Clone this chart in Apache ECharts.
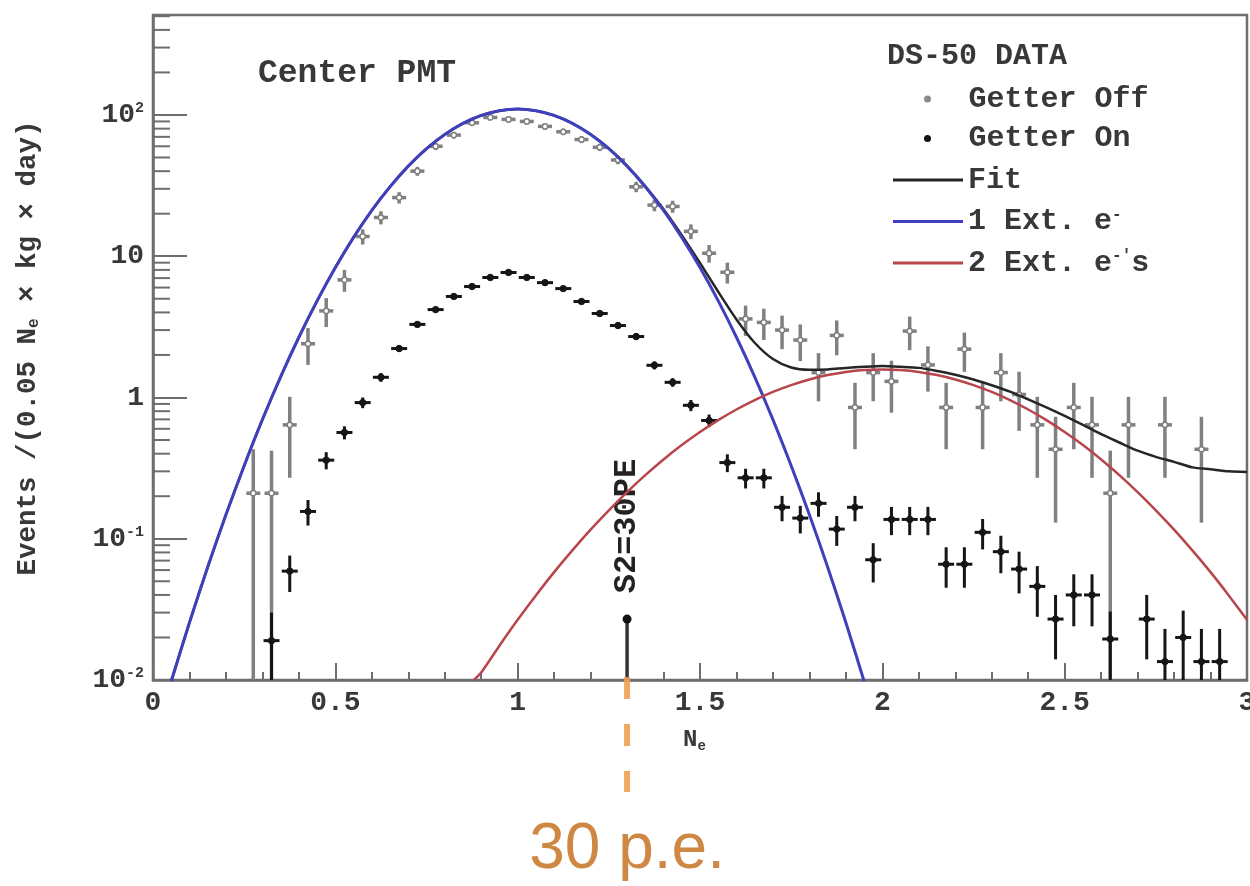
<!DOCTYPE html>
<html><head><meta charset="utf-8">
<script src="https://cdn.jsdelivr.net/npm/echarts@6/dist/echarts.min.js"></script>
<style>html,body{margin:0;padding:0;background:#fff}#c{width:1250px;height:886px}</style>
</head><body><div id="c"></div>
<script>
// ---------------- data ----------------
const goffX = [0.275,0.325,0.375,0.425,0.475,0.525,0.575,0.625,0.675,0.725,0.775,0.825,0.875,0.925,0.975,1.025,1.075,1.125,1.175,1.225,1.275,1.325,1.375,1.425,1.475,1.525,1.575,1.625,1.675,1.725,1.775,1.825,1.875,1.925,1.975,2.025,2.075,2.125,2.175,2.225,2.275,2.325,2.375,2.425,2.475,2.525,2.575,2.625,2.675,2.775,2.875];
const goffY = [0.21,0.21,0.64,2.4,4.1,6.8,13.8,18.8,26,40,60,72,88,96,93,90,83,76,67,59,48,31,23,22.5,15,10.5,7.7,3.6,3.4,3.0,2.55,1.5,2.75,0.85,1.5,1.3,2.95,1.7,0.85,2.2,0.85,1.5,1.05,0.64,0.43,0.85,0.64,0.21,0.64,0.64,0.43];
const goffErr = [0.22,0.21,0.37,0.7,0.95,1.2,1.7,2.0,2.4,2.9,3.6,3.9,4.3,4.5,4.4,4.4,4.2,4.0,3.8,3.5,3.2,2.6,2.2,2.2,1.8,1.5,1.3,0.87,0.85,0.8,0.74,0.56,0.76,0.42,0.56,0.52,0.79,0.6,0.42,0.68,0.42,0.56,0.47,0.37,0.3,0.42,0.37,0.21,0.37,0.37,0.3];

const gonX = [0.325,0.375,0.425,0.475,0.525,0.575,0.625,0.675,0.725,0.775,0.825,0.875,0.925,0.975,1.025,1.075,1.125,1.175,1.225,1.275,1.325,1.375,1.425,1.475,1.525,1.575,1.625,1.675,1.725,1.775,1.825,1.875,1.925,1.975,2.025,2.075,2.125,2.175,2.225,2.275,2.325,2.375,2.425,2.475,2.525,2.575,2.625,2.725,2.775,2.825,2.875,2.925];
const gonY = [0.019,0.059,0.156,0.36,0.565,0.92,1.39,2.22,3.29,4.19,5.19,6.1,7.07,7.67,7.07,6.5,5.9,4.78,3.93,3.23,2.7,1.69,1.28,0.88,0.687,0.346,0.27,0.27,0.167,0.14,0.178,0.117,0.167,0.071,0.137,0.137,0.137,0.066,0.066,0.111,0.081,0.061,0.046,0.027,0.040,0.040,0.0195,0.027,0.0135,0.020,0.0135,0.0135];
const gonErr = [0.011,0.017,0.032,0.05,0.06,0.08,0.1,0.12,0.15,0.17,0.19,0.2,0.22,0.23,0.22,0.21,0.2,0.18,0.16,0.15,0.14,0.11,0.09,0.08,0.07,0.05,0.043,0.043,0.034,0.031,0.035,0.028,0.034,0.022,0.031,0.031,0.031,0.021,0.021,0.027,0.024,0.02,0.018,0.013,0.016,0.016,0.011,0.013,0.0095,0.011,0.0095,0.0095];

const fitX = [0.05,0.10,0.15,0.20,0.25,0.30,0.35,0.40,0.45,0.50,0.55,0.60,0.65,0.70,0.75,0.80,0.85,0.90,0.95,1.00,1.05,1.10,1.15,1.20,1.25,1.30,1.35,1.40,1.45,1.50,1.55,1.60,1.65,1.70,1.75,1.80,1.85,1.90,1.95,2.00,2.05,2.10,2.15,2.20,2.25,2.30,2.35,2.40,2.45,2.50,2.55,2.60,2.65,2.70,2.75,2.80,2.85,2.90,2.95,3.00];
const fitY = [0.0098,0.0255,0.063,0.148,0.329,0.697,1.40,2.67,4.83,8.31,13.6,21.1,31.0,43.4,57.7,72.8,87.2,99.2,107.2,110,107.2,99.2,87.3,72.9,57.9,43.6,31.3,21.5,14.1,8.96,5.6,3.57,2.44,1.87,1.63,1.57,1.58,1.62,1.65,1.67,1.65,1.62,1.54,1.45,1.34,1.22,1.10,0.97,0.85,0.74,0.64,0.55,0.48,0.42,0.38,0.35,0.32,0.31,0.30,0.297];

const ext1X = [0.05,0.10,0.15,0.20,0.25,0.30,0.35,0.40,0.45,0.50,0.55,0.60,0.65,0.70,0.75,0.80,0.85,0.90,0.95,1.00,1.05,1.10,1.15,1.20,1.25,1.30,1.35,1.40,1.45,1.50,1.55,1.60,1.65,1.70,1.75,1.80,1.85,1.90,1.95];
const ext1Y = [0.0098,0.0255,0.063,0.148,0.329,0.697,1.40,2.67,4.83,8.31,13.6,21.1,31.0,43.4,57.7,72.8,87.2,99.2,107.2,110,107.2,99.2,87.2,72.8,57.7,43.4,31.0,21.1,13.6,8.31,4.83,2.67,1.40,0.697,0.329,0.148,0.063,0.0255,0.0098];

const ext2X = [0.88,0.90,0.95,1.00,1.05,1.10,1.15,1.20,1.25,1.30,1.35,1.40,1.45,1.50,1.55,1.60,1.65,1.70,1.75,1.80,1.85,1.90,1.95,2.00,2.05,2.10,2.15,2.20,2.25,2.30,2.35,2.40,2.45,2.50,2.55,2.60,2.65,2.70,2.75,2.80,2.85,2.90,2.95,3.00];
const ext2Y = [0.01,0.0113,0.0175,0.0267,0.0397,0.058,0.0827,0.116,0.159,0.214,0.282,0.364,0.46,0.569,0.691,0.822,0.958,1.094,1.224,1.342,1.441,1.517,1.564,1.58,1.564,1.517,1.441,1.342,1.224,1.094,0.958,0.822,0.691,0.569,0.46,0.364,0.282,0.214,0.159,0.116,0.0827,0.058,0.0397,0.0267];

const s2X = [1.3];
const s2Y = [0.027];

const xTickLabels = ['0','0.5','1','1.5','2','2.5','3'];
const yTickValues = [0.01, 0.1, 1, 10, 100];
const yTickLabels = ['10{s|-2}','10{s|-1}','1','10','10{s|2}'];

// ---------------- rendering ----------------
const MONO = '"Liberation Mono","DejaVu Sans Mono",monospace';
const AX = '#6e6e6e';
const TXT = '#383838';
const Y_MIN = 0.01, Y_MAX = 510;

const chart = echarts.init(document.getElementById('c'), null, {renderer: 'canvas'});

function errData(xs, ys, es) {
  return xs.map((x, i) => [x, ys[i], ys[i] - es[i], ys[i] + es[i]]);
}
function errRender(color, width, hw, marker) {
  return function (params, api) {
    const x = api.value(0), y = api.value(1);
    const lo = Math.max(api.value(2), Y_MIN), hi = api.value(3);
    const p = api.coord([x, y]);
    const pl = api.coord([x, lo]);
    const ph = api.coord([x, hi]);
    return {
      type: 'group',
      children: [
        {type: 'line', shape: {x1: p[0], y1: pl[1], x2: p[0], y2: ph[1]}, style: {stroke: color, lineWidth: width}},
        {type: 'line', shape: {x1: p[0] - hw, y1: p[1], x2: p[0] + hw, y2: p[1]}, style: {stroke: color, lineWidth: width}},
        {type: 'circle', shape: {cx: p[0], cy: p[1], r: marker.r}, style: {fill: marker.fill, stroke: marker.stroke, lineWidth: marker.lw}}
      ]
    };
  };
}

// minor log ticks positions (2..9 per decade)
const yMinor = [];
for (let d = -2; d <= 2; d++) for (let m = 2; m <= 9; m++) { const v = m * Math.pow(10, d); if (v < Y_MAX) yMinor.push(v); }

const pair = (xs, ys) => xs.map((x, i) => [x, ys[i]]);

const legendLabels = {
  'Getter Off': 'Getter Off',
  'Getter On': 'Getter On',
  'Fit': 'Fit',
  '1 Ext. e-': '1 Ext. e{s|-}',
  "2 Ext. e-'s": "2 Ext. e{s|-'}s"
};
const legendText = {
  fontFamily: MONO, fontWeight: 'bold', fontSize: 30, color: TXT, lineHeight: 30,
  rich: {s: {fontFamily: MONO, fontWeight: 'bold', fontSize: 16, color: TXT, padding: [0, 0, 14, 0]}}
};

const option = {
  animation: false,
  backgroundColor: '#ffffff',
  grid: {left: 153, right: 3, top: 15, bottom: 206, show: true, borderColor: AX, borderWidth: 2.5,
         backgroundColor: 'transparent', containLabel: false, outerBoundsMode: 'none'},
  xAxis: {
    type: 'value', min: 0, max: 3, interval: 0.5,
    axisLine: {show: true, onZero: false, lineStyle: {color: AX, width: 2.5}},
    axisTick: {show: true, inside: true, length: 17, lineStyle: {color: AX, width: 2}},
    minorTick: {show: true, splitNumber: 5, length: 8, lineStyle: {color: AX, width: 2}},
    splitLine: {show: false}, minorSplitLine: {show: false},
    axisLabel: {margin: 9, fontFamily: MONO, fontWeight: 'bold', fontSize: 28, color: TXT,
      formatter: v => xTickLabels[Math.round(v / 0.5)] ?? ''}
  },
  yAxis: {
    type: 'log', logBase: 10, min: Y_MIN, max: Y_MAX,
    axisLine: {show: true, onZero: false, lineStyle: {color: AX, width: 2.5}},
    axisTick: {show: true, inside: true, length: 34, lineStyle: {color: AX, width: 2}},
    splitLine: {show: false},
    axisLabel: {margin: 9, fontFamily: MONO, fontWeight: 'bold', fontSize: 28, color: TXT,
      formatter: function (v) {
        for (let i = 0; i < yTickValues.length; i++) {
          if (Math.abs(Math.log10(v) - Math.log10(yTickValues[i])) < 1e-6) return yTickLabels[i];
        }
        return '';
      },
      rich: {s: {fontFamily: MONO, fontWeight: 'bold', fontSize: 15, color: TXT, padding: [0, 0, 14, 0]}}
    }
  },
  legend: [
    {
      data: [{name: 'Getter Off', icon: 'circle', itemStyle: {color: '#8a8a8a'}},
             {name: 'Getter On', icon: 'circle', itemStyle: {color: '#111'}}],
      orient: 'vertical', left: 924, top: 84, padding: 0, itemWidth: 72, itemHeight: 7, itemGap: 9.5,
      selectedMode: false, textStyle: legendText, formatter: n => legendLabels[n]
    },
    {
      data: [{name: 'Fit', icon: 'rect'}, {name: '1 Ext. e-', icon: 'rect'}, {name: "2 Ext. e-'s", icon: 'rect'}],
      orient: 'vertical', left: 893, top: 165, padding: 0, itemWidth: 70, itemHeight: 3, itemGap: 11.5,
      selectedMode: false, textStyle: legendText, formatter: n => legendLabels[n]
    }
  ],
  series: [
    {
      name: 'yMinorTicks', type: 'custom', silent: true, z: 2,
      data: yMinor.map(v => [0, v]), encode: {x: 0, y: 1},
      renderItem: function (params, api) {
        const p = api.coord([0, api.value(1)]);
        return {type: 'line', shape: {x1: p[0], y1: p[1], x2: p[0] + 17, y2: p[1]}, style: {stroke: AX, lineWidth: 2}};
      }
    },
    {
      name: 'Getter Off', type: 'custom', z: 3, clip: true, encode: {x: 0, y: 1},
      data: errData(goffX, goffY, goffErr),
      renderItem: errRender('#808080', 3.5, 7, {r: 2.6, fill: '#fff', stroke: '#808080', lw: 1.5})
    },
    {
      name: 'Getter On', type: 'custom', z: 4, clip: true, encode: {x: 0, y: 1},
      data: errData(gonX, gonY, gonErr),
      renderItem: errRender('#151515', 3, 8, {r: 3.2, fill: '#151515', stroke: '#151515', lw: 1})
    },
    {
      name: 'S2', type: 'custom', z: 4, encode: {x: 0, y: 1},
      data: pair(s2X, s2Y),
      renderItem: function (params, api) {
        const p = api.coord([api.value(0), api.value(1)]);
        const b = api.coord([api.value(0), Y_MIN]);
        return {type: 'group', children: [
          {type: 'line', shape: {x1: p[0], y1: b[1], x2: p[0], y2: p[1]}, style: {stroke: '#333', lineWidth: 3.5}},
          {type: 'circle', shape: {cx: p[0], cy: p[1], r: 4.5}, style: {fill: '#111'}},
          {type: 'text', x: p[0], y: p[1] - 93, rotation: Math.PI / 2,
           style: {text: 'S2=30PE', align: 'center', verticalAlign: 'middle', fill: '#222',
                   fontFamily: MONO, fontWeight: 'bold', fontSize: 32}}
        ]};
      }
    },
    {
      name: 'Fit', type: 'line', z: 5, color: '#262626', showSymbol: false, smooth: 0.25, clip: true,
      lineStyle: {color: '#262626', width: 2.5}, data: pair(fitX, fitY)
    },
    {
      name: '1 Ext. e-', type: 'line', z: 6, color: '#4040bc', showSymbol: false, smooth: 0.25, clip: true,
      lineStyle: {color: '#4040bc', width: 3}, data: pair(ext1X, ext1Y)
    },
    {
      name: "2 Ext. e-'s", type: 'line', z: 7, color: '#b8444c', showSymbol: false, smooth: 0.25, clip: true,
      lineStyle: {color: '#b8444c', width: 2.5}, data: pair(ext2X, ext2Y)
    }
  ],
  graphic: {elements: [
    {id: 'title', type: 'text', x: 258, y: 74,
     style: {text: 'Center PMT', fill: TXT, fontFamily: MONO, fontWeight: 'bold', fontSize: 33, verticalAlign: 'middle'}},
    {id: 'lhead', type: 'text', x: 887, y: 56,
     style: {text: 'DS-50 DATA', fill: TXT, fontFamily: MONO, fontWeight: 'bold', fontSize: 30, verticalAlign: 'middle'}},
    {id: 'xname', type: 'text', x: 683, y: 740,
     style: {text: 'N{s|e}', fill: TXT, fontFamily: MONO, fontWeight: 'bold', fontSize: 24, verticalAlign: 'middle',
             rich: {s: {fontFamily: MONO, fontWeight: 'bold', fontSize: 14, fill: TXT, padding: [12, 0, 0, 0]}}}},
    {id: 'yname', type: 'text', x: 28, y: 348, rotation: Math.PI / 2,
     style: {text: 'Events /(0.05 N{s|e} × kg × day)', fill: TXT, fontFamily: MONO, fontWeight: 'bold', fontSize: 27.5,
             align: 'center', verticalAlign: 'middle',
             rich: {s: {fontFamily: MONO, fontWeight: 'bold', fontSize: 16, fill: TXT, padding: [12, 0, 0, 0]}}}}
  ]}
};
chart.setOption(option);

// orange threshold annotation under the x axis, positioned from the data value
const pb = chart.convertToPixel({xAxisIndex: 0, yAxisIndex: 0}, [s2X[0], Y_MIN]);
chart.setOption({graphic: {elements: [
  {id: 'thr', type: 'line', z: 10, shape: {x1: pb[0], y1: pb[1] - 3, x2: pb[0], y2: pb[1] + 112},
   style: {stroke: '#eea052', lineWidth: 6, lineDash: [22, 25], opacity: 0.9}},
  {id: 'thrText', type: 'text', x: pb[0], y: pb[1] + 170,
   style: {text: '30 p.e.', fill: '#cf8844', fontFamily: '"Liberation Sans",Arial,sans-serif', fontSize: 64,
           align: 'center', verticalAlign: 'middle'}}
]}});
</script></body></html>
